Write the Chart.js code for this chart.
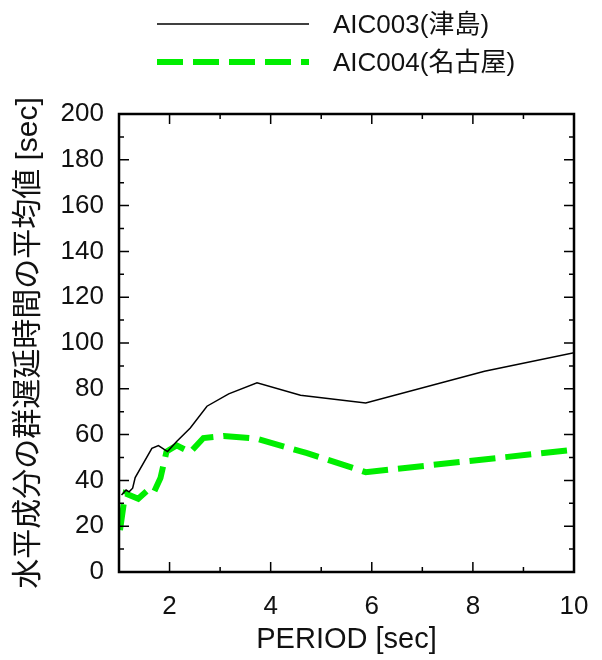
<!DOCTYPE html>
<html>
<head>
<meta charset="utf-8">
<script src="https://cdn.jsdelivr.net/npm/chart.js@4/dist/chart.umd.min.js"></script>
<style>
  body { margin: 0; background: #fff; }
  #wrap { width: 602px; height: 660px; }
</style>
</head>
<body>
<div id="wrap"><canvas id="chart" width="602" height="660"></canvas></div>
<script>
// AIC003 (津島)
var periodTsushima = [1.05, 1.14, 1.2, 1.27, 1.32, 1.65, 1.78, 1.96, 2.14, 2.41, 2.74, 3.17, 3.73, 4.59, 5.88, 8.23, 10];
var delayTsushima  = [33.6, 35.8, 35.0, 36.6, 41.2, 54.0, 55.2, 52.6, 57.0, 62.9, 72.4, 77.8, 82.6, 77.2, 73.8, 87.7, 95.8];
// AIC004 (名古屋)
var periodNagoya = [1.02, 1.09, 1.13, 1.38, 1.55, 1.68, 1.82, 1.94, 2.14, 2.41, 2.67, 3.07, 3.73, 4.72, 5.88, 10];
var delayNagoya  = [18.3, 29.2, 34.3, 32.0, 35.4, 34.3, 41.0, 52.6, 55.3, 52.3, 58.5, 59.4, 58.2, 51.9, 43.6, 53.4];

var seriesNames = ["AIC003(津島)", "AIC004(名古屋)"];
var xMajorTicks = [2, 4, 6, 8, 10];
var xMinorTicks = [1, 3, 5, 7, 9];
var yMajorTicks = [0, 20, 40, 60, 80, 100, 120, 140, 160, 180, 200];
var yMinorTicks = [10, 30, 50, 70, 90, 110, 130, 150, 170, 190];

var latin = "'Liberation Sans', Arial, 'Noto Sans CJK JP', sans-serif";

function pairs(xs, ys) {
  return xs.map(function (x, i) { return { x: x, y: ys[i] }; });
}

// frame with inward ticks on all four sides
var framePlugin = {
  id: 'frame',
  afterDraw: function (chart) {
    var ctx = chart.ctx, a = chart.chartArea;
    var xs = chart.scales.x, ys = chart.scales.y;
    ctx.save();
    ctx.strokeStyle = '#000';
    ctx.lineWidth = 1.5;
    function xt(list, len) {
      list.forEach(function (v) {
        var p = xs.getPixelForValue(v);
        ctx.beginPath();
        ctx.moveTo(p, a.bottom); ctx.lineTo(p, a.bottom - len);
        ctx.moveTo(p, a.top); ctx.lineTo(p, a.top + len);
        ctx.stroke();
      });
    }
    function yt(list, len) {
      list.forEach(function (v) {
        var p = ys.getPixelForValue(v);
        ctx.beginPath();
        ctx.moveTo(a.left, p); ctx.lineTo(a.left + len, p);
        ctx.moveTo(a.right, p); ctx.lineTo(a.right - len, p);
        ctx.stroke();
      });
    }
    xt(xMajorTicks, 10); xt(xMinorTicks, 5);
    yt(yMajorTicks, 10); yt(yMinorTicks, 5);
    ctx.lineWidth = 2.5;
    ctx.strokeRect(a.left, a.top, a.right - a.left, a.bottom - a.top);
    ctx.restore();
  }
};

// legend: long line sample then label, stacked at the top
var legendPlugin = {
  id: 'lineLegend',
  afterDraw: function (chart) {
    var ctx = chart.ctx;
    var rows = [24, 62];
    ctx.save();
    chart.data.datasets.forEach(function (ds, i) {
      var y = rows[i];
      ctx.beginPath();
      ctx.setLineDash(ds.borderDash || []);
      ctx.lineWidth = ds.borderWidth;
      ctx.strokeStyle = ds.borderColor;
      ctx.moveTo(157, y);
      ctx.lineTo(309, y);
      ctx.stroke();
      ctx.setLineDash([]);
      ctx.fillStyle = '#111';
      ctx.font = '26px ' + latin;
      ctx.textBaseline = 'middle';
      ctx.fillText(ds.label, 333, y + 2);
    });
    ctx.restore();
  }
};

new Chart(document.getElementById('chart'), {
  type: 'line',
  data: {
    datasets: [
      {
        label: seriesNames[0],
        data: pairs(periodTsushima, delayTsushima),
        borderColor: '#000',
        borderWidth: 1.5,
        pointRadius: 0,
        tension: 0
      },
      {
        label: seriesNames[1],
        data: pairs(periodNagoya, delayNagoya),
        borderColor: '#00ee00',
        borderWidth: 6,
        borderDash: [26, 10],
        pointRadius: 0,
        tension: 0
      }
    ]
  },
  options: {
    responsive: false,
    animation: false,
    layout: { padding: { top: 114, right: 28, left: 0, bottom: 0 } },
    plugins: {
      legend: { display: false },
      tooltip: { enabled: false }
    },
    scales: {
      x: {
        type: 'linear',
        min: 1,
        max: 10,
        afterBuildTicks: function (s) {
          s.ticks = xMajorTicks.map(function (v) { return { value: v }; });
        },
        afterFit: function (s) { s.height = 88; },
        grid: { display: false },
        border: { display: false },
        ticks: { color: '#111', padding: 11, font: { size: 26, family: latin } },
        title: {
          display: true,
          text: 'PERIOD [sec]',
          color: '#111',
          font: { size: 29, family: latin },
          padding: { top: 0, bottom: 3 }
        }
      },
      y: {
        min: 0,
        max: 200,
        afterBuildTicks: function (s) {
          s.ticks = yMajorTicks.map(function (v) { return { value: v }; });
        },
        afterFit: function (s) { s.width = 119; },
        grid: { display: false },
        border: { display: false },
        ticks: { color: '#111', padding: 7, font: { size: 26, family: latin } },
        title: {
          display: true,
          text: '水平成分の群遅延時間の平均値 [sec]',
          color: '#111',
          font: { size: 30, family: latin },
          padding: { top: 11, bottom: 0 }
        }
      }
    }
  },
  plugins: [framePlugin, legendPlugin]
});
</script>
</body>
</html>
